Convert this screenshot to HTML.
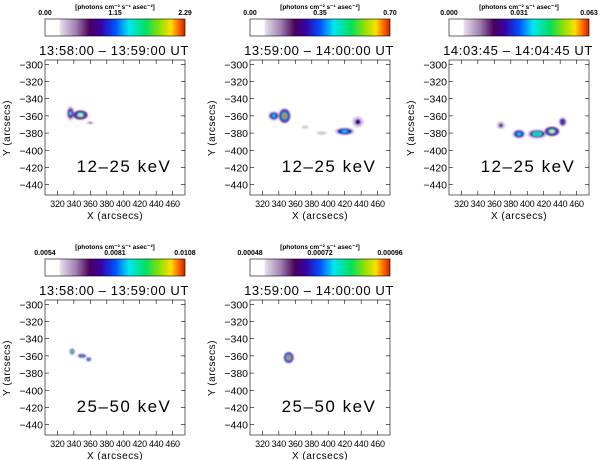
<!DOCTYPE html>
<html><head><meta charset="utf-8"><style>
body{margin:0;background:#fff;}
svg{display:block;font-family:"Liberation Sans",sans-serif;}
</style></head><body>
<svg id="fig" width="600" height="460" viewBox="0 0 600 460">
<defs>
<linearGradient id="cmap" x1="0" x2="1" y1="0" y2="0">
<stop offset="0" stop-color="#fff"/><stop offset="0.1" stop-color="#fff"/>
<stop offset="0.11" stop-color="#e6dcea"/><stop offset="0.22" stop-color="#a080b0"/>
<stop offset="0.32" stop-color="#48005a"/><stop offset="0.4" stop-color="#3800a8"/>
<stop offset="0.5" stop-color="#0050ff"/><stop offset="0.6" stop-color="#00e8f0"/>
<stop offset="0.72" stop-color="#00e060"/><stop offset="0.82" stop-color="#90e000"/>
<stop offset="0.9" stop-color="#ffe000"/><stop offset="0.95" stop-color="#ff7000"/>
<stop offset="1" stop-color="#d02000"/></linearGradient>
<filter id="blur"><feGaussianBlur stdDeviation="0.9"/></filter>
</defs>
</svg>
<script>
// Panel metadata
const panelTimes=["13:58:00 \u2013 13:59:00 UT","13:59:00 \u2013 14:00:00 UT","14:03:45 \u2013 14:04:45 UT","13:58:00 \u2013 13:59:00 UT","13:59:00 \u2013 14:00:00 UT"];
const panelBands=["12\u201325 keV","12\u201325 keV","12\u201325 keV","25\u201350 keV","25\u201350 keV"];
const cbLeft=["0.00","0.00","0.000","0.0054","0.00048"];
const cbMid=["1.15","0.35","0.031","0.0081","0.00072"];
const cbRight=["2.29","0.70","0.063","0.0108","0.00096"];
const yTicks=[-300,-320,-340,-360,-380,-400,-420,-440];
const xTicks=[320,340,360,380,400,420,440,460];
// sources: [x arcsec, y arcsec, rx, ry, intensity 0..1]
const sources=[
 [[336,-357,5,9,0.6],[348,-359,9,6,0.9],[360,-368,6,3,0.3]],
 [[334,-360,7,6,0.65],[347,-360,7,9,1.0],[372,-373,9,4,0.15],[392,-380,12,5,0.15],[420,-378,12,5,0.65],[436,-367,7,7,0.45]],
 [[368,-371,5,5,0.4],[390,-381,8,6,0.7],[412,-381,12,6,0.8],[430,-378,9,6,0.85],[443,-367,5,6,0.55]],
 [[338,-355,3.5,4.5,0.8],[350,-360,6,3,0.75],[358,-364,3.5,3,0.7]],
 [[352,-362,6,7,1.0]]
];
const colorStops=[[0,"#ffffff"],[0.1,"#d8c8e0"],[0.25,"#8040a0"],[0.35,"#3a00a0"],[0.5,"#0050ff"],[0.62,"#00e0f0"],[0.75,"#00e060"],[0.88,"#ffe000"],[1,"#ff3000"]];

const svg=document.getElementById('fig');
const NS='http://www.w3.org/2000/svg';
function mk(tag,attrs,parent){const e=document.createElementNS(NS,tag);for(const k in attrs)e.setAttribute(k,attrs[k]);(parent||svg).appendChild(e);return e;}
const PX0=45,PX1=185,PY0=60,PY1=195,XMIN=305,XMAX=475,YMIN=-295,YMAX=-452;
const offsets=[[0,0],[205,0],[404,0],[0,240],[205,240]];
function colorAt(v){return colorStops.filter(s=>s[0]<=v).pop()[1];}

offsets.forEach((o,i)=>{
 const dx=o[0],dy=o[1];
 const g=mk('g',{});
 
 
 const sx=v=>dx+PX0+(v-XMIN)/(XMAX-XMIN)*(PX1-PX0);
 const sy=v=>dy+PY0+(v-YMIN)/(YMAX-YMIN)*(PY1-PY0);
 const t1=mk('text',{x:dx+115,y:dy+9,'font-size':6.5,'font-weight':'bold','text-anchor':'middle'},g);
 t1.textContent='[photons cm\u207B\u00B2 s\u207B\u00B9 asec\u207B\u00B2]';
 
 [[cbLeft[i],dx+PX0,'middle'],[cbMid[i],dx+115,'middle'],[cbRight[i],dx+PX1,'middle']].forEach(a=>{
  const t=mk('text',{x:a[1],y:dy+15,'font-size':7,'font-weight':'bold','text-anchor':a[2]},g);t.textContent=a[0];
  });
 const cb=mk('rect',{x:dx+PX0,y:dy+19,width:PX1-PX0,height:17,fill:'url(#cmap)',stroke:'#000','stroke-width':0.6},g);
 
 const tt=mk('text',{x:dx+114,y:dy+55,'font-size':13,'letter-spacing':'0.6','text-anchor':'middle'},g);tt.textContent=panelTimes[i];
 
 const img=mk('g',{filter:'url(#blur)'},g);
 
 sources[i].forEach(s=>{
  const cx=sx(s[0]),cy=sy(s[1]),rx=s[2]*(PX1-PX0)/(XMAX-XMIN),ry=s[3]*(PY1-PY0)/(XMAX-XMIN);
  [1,0.75,0.5,0.28].forEach((f,k)=>{
   const v=Math.min(1,s[4]*(0.3+k*0.25));
   const e=mk('ellipse',{cx:cx,cy:cy,rx:rx*f,ry:ry*f,fill:colorAt(v)},img);
   });
 });
 const box=mk('rect',{x:dx+PX0,y:dy+PY0,width:PX1-PX0,height:PY1-PY0,fill:'none',stroke:'#000','stroke-width':0.6},g);
 
 yTicks.forEach(v=>{
  const y=sy(v);
  mk('line',{x1:dx+PX0,x2:dx+PX0+4,y1:y,y2:y,stroke:'#000','stroke-width':0.6},g);
  mk('line',{x1:dx+PX1,x2:dx+PX1-4,y1:y,y2:y,stroke:'#000','stroke-width':0.6},g);
  const t=mk('text',{x:dx+PX0-2,y:y+4,'font-size':10.5,'text-anchor':'end'},g);t.textContent='\u2212'+(-v);
  });
 xTicks.forEach(v=>{
  const x=sx(v);
  mk('line',{x1:x,x2:x,y1:dy+PY1,y2:dy+PY1-4,stroke:'#000','stroke-width':0.6},g);
  mk('line',{x1:x,x2:x,y1:dy+PY0,y2:dy+PY0+4,stroke:'#000','stroke-width':0.6},g);
  const t=mk('text',{x:x,y:dy+PY1+12,'font-size':9,'letter-spacing':'-0.2','text-anchor':'middle'},g);t.textContent=v;
  });
 const xl=mk('text',{x:dx+115,y:dy+PY1+24,'font-size':10,'letter-spacing':'0.5','text-anchor':'middle'},g);xl.textContent='X (arcsecs)';
 
 const yl=mk('text',{x:0,y:0,'font-size':10,'letter-spacing':'0.5','text-anchor':'middle',transform:`translate(${dx+10},${dy+128}) rotate(-90)`},g);yl.textContent='Y (arcsecs)';
 
 const bl=mk('text',{x:dx+124,y:dy+172,'font-size':17,'letter-spacing':'1.5','text-anchor':'middle'},g);bl.textContent=panelBands[i];
 
});
</script>
</body></html>
